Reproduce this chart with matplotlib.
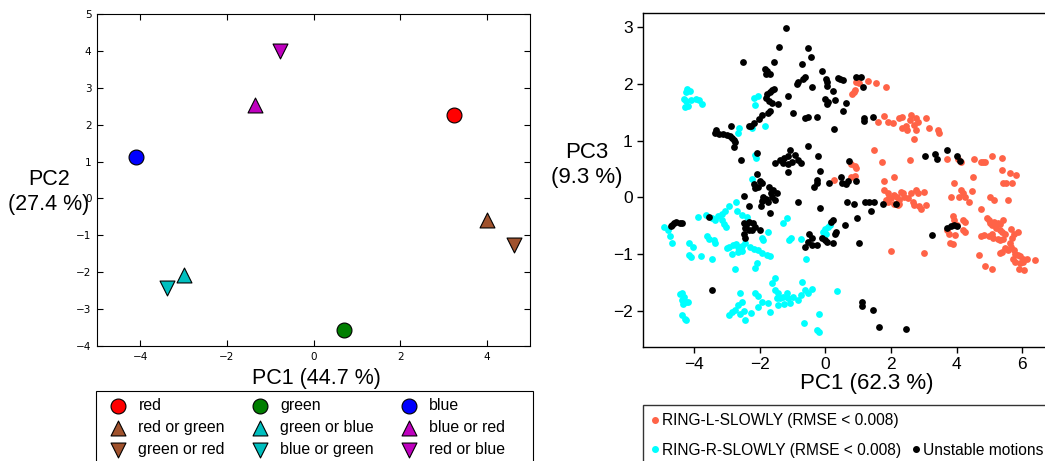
import matplotlib
matplotlib.use("Agg")
import matplotlib.pyplot as plt
from matplotlib.lines import Line2D
from matplotlib.patches import Rectangle
import numpy as np

plt.rcParams['font.family'] = ['Liberation Sans', 'DejaVu Sans']

# ---------------- left panel: colour categories on PC1 / PC2 ----------------
cat_labels = ["red", "red or green", "green or red",
              "green", "green or blue", "blue or green",
              "blue", "blue or red", "red or blue"]
cat_pc1 = [3.25, 4.00, 4.64, 0.70, -2.98, -3.38, -4.09, -1.34, -0.77]
cat_pc2 = [2.27, -0.59, -1.26, -3.57, -2.08, -2.43, 1.13, 2.52, 4.01]
cat_colors = ["#ff0000", "#a0522d", "#a0522d",
              "#007f00", "#00bfbf", "#00bfbf",
              "#0000ff", "#bf00bf", "#bf00bf"]
cat_markers = ["o", "^", "v", "o", "^", "v", "o", "^", "v"]
left_xticks = [-4, -2, 0, 2, 4]
left_yticks = [-4, -3, -2, -1, 0, 1, 2, 3, 4, 5]

# ---------------- right panel: motions on PC1 / PC3 ----------------
ring_l_pc1 = [0.92, 1.04, 1.31, 1.53, 1.85, 0.81, 0.87, 0.91, 1.78, 1.60, 1.90, 2.07,
              2.25, 2.35, 2.47, 2.58, 2.61, 2.76, 2.81, 2.71, 2.35, 2.48, 3.06, 3.16,
              3.44, 3.46, 2.76, 2.71, 1.49, 1.72, 2.59, 0.79, 0.89, 0.94, 0.79, 0.91,
              0.26, 3.72, 4.04, 4.14, 4.53, 4.73, 4.81, 4.88, 5.08, 5.40, 5.38, 5.64,
              5.82, 5.41, 5.52, 5.69, 4.49, 3.92, 1.78, 2.08, 1.80, 1.90, 1.95, 1.85,
              1.90, 2.00, 2.10, 2.17, 2.25, 2.30, 2.40, 2.51, 2.25, 2.20, 2.61, 2.76,
              2.83, 3.01, 2.66, 2.71, 2.86, 2.91, 3.06, 2.38, 2.10, 4.14, 4.20, 4.27,
              4.37, 3.82, 4.07, 4.47, 5.03, 5.13, 5.58, 4.73, 3.90, 3.92, 4.20, 4.27,
              4.02, 4.20, 4.27, 3.70, 3.77, 3.94, 3.81, 3.90, 4.93, 4.98, 5.03, 5.13,
              5.08, 5.25, 5.33, 5.41, 5.21, 5.31, 5.38, 5.48, 5.08, 4.98, 4.83, 4.73,
              5.11, 5.25, 5.33, 5.41, 5.66, 5.74, 5.86, 5.69, 5.62, 5.66, 5.74, 5.79,
              5.86, 5.94, 6.02, 6.14, 5.72, 5.79, 5.94, 6.04, 6.39, 5.58, 5.48, 5.38,
              5.31, 4.68, 4.88, 5.08, 5.89, 6.07, 2.00, 3.01]
ring_l_pc3 = [2.04, 2.01, 2.05, 2.02, 1.95, 1.82, 1.86, 1.89, 1.44, 1.32, 1.32, 1.31,
              1.39, 1.41, 1.26, 1.36, 1.45, 1.39, 1.32, 1.28, 1.23, 1.19, 1.40, 1.23,
              1.19, 1.14, 1.19, 1.02, 0.84, 0.62, 0.65, 0.58, 0.55, 0.51, 0.36, 0.38,
              0.31, 0.68, 0.67, 0.63, 0.67, 0.63, 0.63, 0.63, 0.72, 0.69, 0.48, 0.42,
              0.39, 0.26, 0.25, 0.26, 0.35, 0.25, 0.28, 0.36, 0.12, 0.07, 0.01, -0.04,
              -0.08, -0.02, 0.04, 0.00, -0.05, 0.10, 0.01, -0.02, -0.11, -0.14, 0.07, 0.13,
              0.07, 0.10, -0.08, -0.14, -0.15, -0.21, -0.13, 0.08, -0.11, 0.13, 0.07, 0.01,
              -0.08, 0.01, 0.01, 0.11, 0.00, -0.05, -0.05, -0.21, -0.33, -0.40, -0.40, -0.43,
              -0.49, -0.58, -0.61, -0.58, -0.64, -0.66, -0.81, -0.82, -0.37, -0.40, -0.45, -0.43,
              -0.49, -0.45, -0.47, -0.40, -0.55, -0.58, -0.62, -0.64, -0.64, -0.68, -0.66, -0.68,
              -0.72, -0.74, -0.76, -0.74, -0.56, -0.64, -0.62, -0.72, -0.80, -0.87, -0.93, -1.00,
              -1.02, -1.04, -1.08, -1.09, -1.08, -1.14, -1.16, -1.14, -1.11, -0.93, -0.90, -0.96,
              -0.98, -1.02, -1.22, -1.27, -1.27, -1.28, -0.94, -0.98]

ring_r_pc1 = [-4.21, -4.14, -4.26, -4.31, -4.24, -4.11, -3.94, -3.86, -3.76, -4.28, -4.18,
              -2.17, -2.04, -2.14, -1.83, -2.62, -2.67, -2.24, -2.14, -2.12, -2.24, -2.73,
              -2.95, -3.07, -3.15, -3.27, -3.37, -3.45, -3.64, -3.88, -4.92, -4.79, -4.74,
              -4.69, -4.16, -4.04, -4.16, -4.10, -3.78, -3.60, -3.56, -3.40, -3.35, -3.45,
              -3.15, -3.10, -3.03, -3.00, -2.93, -2.83, -2.73, -2.65, -2.55, -2.44, -2.29,
              -2.19, -2.06, -1.94, -1.79, -1.69, -2.85, -2.65, -2.55, -2.09, -2.14, -2.75,
              -1.74, -1.94, -1.89, -1.28, -1.18, -1.11, -1.05, -0.73, -0.60, -0.02, 0.08,
              0.13, 0.03, -0.07, -2.70, -2.55, -2.39, -1.54, -1.64, -2.14, -2.06, -1.94,
              -2.04, -2.60, -2.55, -2.47, -2.60, -2.65, -2.93, -2.85, -2.77, -2.44, -2.26,
              -1.76, -1.69, -1.54, -1.43, -1.48, -1.38, -1.28, -1.18, -1.13, -1.08, -1.25,
              -1.45, -0.98, -0.83, -0.75, -0.70, -0.63, -0.53, -0.40, 0.36, -0.66, -0.19,
              -0.27, -0.19, -4.44, -4.36, -4.31, -4.38, -4.26, -4.33, -4.18, -4.36, -4.28,
              -4.24]
ring_r_pc3 = [1.91, 1.88, 1.85, 1.73, 1.69, 1.72, 1.74, 1.71, 1.64, 1.60, 1.61,
              1.75, 1.78, 1.63, 1.26, 1.23, 1.13, 1.23, 0.75, 0.70, 0.32, -0.08,
              -0.16, -0.25, -0.29, -0.33, -0.40, -0.37, -0.31, -0.35, -0.52, -0.58, -0.69,
              -0.80, -0.81, -0.87, -1.02, -1.05, -1.04, -0.69, -0.74, -0.75, -0.80, -1.08,
              -0.40, -0.47, -0.53, -0.90, -0.87, -0.84, -0.82, -0.87, -0.86, -0.81, -0.88,
              -0.92, -0.93, -0.98, -1.02, -1.04, -1.00, -0.96, -0.94, -1.16, -1.24, -1.27,
              -0.62, -0.71, -0.76, -0.45, -0.37, -0.76, -0.71, -0.74, -1.08, -0.56, -0.52,
              -0.49, -0.64, -0.61, -0.25, -0.31, -0.35, -1.43, -1.51, -1.69, -1.74, -1.84,
              -1.93, -1.69, -1.84, -2.00, -2.05, -1.90, -2.08, -2.02, -1.99, -2.16, -2.04,
              -1.87, -2.02, -1.64, -1.69, -1.78, -1.78, -1.75, -1.69, -1.78, -1.87, -1.88,
              -1.90, -1.75, -1.81, -1.72, -1.49, -1.64, -1.69, -1.61, -1.65, -2.22, -2.06,
              -2.34, -2.38, -1.71, -1.69, -1.75, -1.81, -1.84, -1.88, -1.84, -2.08, -2.14,
              -2.16]

unstable_pc1 = [-1.20, -1.41, -0.53, -2.51, -0.44, -1.58, -0.70, -1.84, -1.78, -1.82, -1.68,
                -0.09, -0.63, -0.67, -0.83, -0.85, 0.03, 0.06, 0.38, 0.44, 0.55, 0.92,
                1.09, 1.14, -0.40, 0.04, 0.23, -1.56, -1.64, -1.69, -1.79, -1.13, 0.00,
                0.08, 0.28, 0.04, 0.62, 0.54, -1.82, -1.71, -1.45, -1.64, -0.98, -0.63,
                -0.53, -0.26, 1.17, 1.19, 1.44, 0.26, -1.68, -1.76, -1.94, -2.02, -2.18,
                -2.26, -2.34, -2.88, -3.33, -3.37, -3.25, -3.12, -3.00, -2.90, -2.85, -2.80,
                -2.77, -2.79, -0.53, -2.08, -1.08, -0.93, -0.83, -1.15, -1.25, -1.38, -1.54,
                -1.28, -1.13, -1.01, -0.73, -1.15, -2.58, -0.21, 0.71, 3.04, 3.33, 3.41,
                3.72, 4.02, 4.10, -0.16, -2.09, -1.99, -2.19, -2.04, -2.14, -1.94, -0.27,
                -0.24, 0.10, 0.48, 0.51, 0.64, 0.69, 0.94, -0.34, -1.72, -1.59, -1.66,
                -1.48, -1.54, -1.62, -1.89, -1.82, -1.94, -1.74, -2.49, -2.32, -1.97, -1.68,
                -0.82, -0.17, 0.65, 0.86, 1.21, 1.34, 1.47, 1.39, 1.75, 2.14, -3.56,
                0.97, 0.23, 0.18, 0.59, -4.62, -4.67, -4.55, -4.72, -4.44, -4.36, -2.49,
                -2.42, -2.32, -2.22, -2.44, -2.34, -2.24, -2.14, -2.49, -2.46, -1.99, -0.49,
                -0.42, -0.53, -0.63, -0.42, -0.27, -0.09, 0.00, 0.06, 0.23, 0.33, 0.28,
                1.04, 3.24, 3.72, 3.82, 3.92, 4.00, -3.47, 1.12, 1.11, 1.45, 1.65, 2.46]
unstable_pc3 = [2.98, 2.65, 2.64, 2.39, 2.47, 2.38, 2.35, 2.26, 2.22, 2.18, 2.18,
                2.22, 2.13, 2.09, 2.04, 1.99, 2.08, 2.04, 2.10, 2.08, 2.07, 2.13,
                2.13, 1.94, 1.95, 1.96, 1.88, 1.91, 1.89, 1.85, 1.82, 1.78, 1.73,
                1.68, 1.72, 1.65, 1.66, 1.53, 1.76, 1.70, 1.64, 1.66, 1.48, 1.39,
                1.41, 1.42, 1.39, 1.35, 1.41, 1.20, 1.52, 1.49, 1.45, 1.38, 1.31,
                1.26, 1.26, 1.26, 1.19, 1.13, 1.11, 1.12, 1.10, 1.08, 1.05, 1.01,
                0.98, 0.88, 0.91, 0.79, 0.84, 0.75, 0.65, 0.73, 0.69, 0.66, 0.60,
                0.61, 0.59, 0.63, 0.60, 0.45, 0.65, 0.72, 0.64, 0.73, 0.76, 0.67,
                0.84, 0.72, 0.64, 0.47, 0.41, 0.28, 0.24, 0.19, 0.16, 0.25, 0.31,
                0.26, 0.26, 0.36, 0.25, 0.24, 0.28, 0.28, 0.19, 0.19, 0.13, 0.08,
                0.07, -0.05, 0.01, 0.01, -0.03, -0.06, -0.08, 0.02, -0.15, -0.16, -0.27,
                -0.08, -0.19, -0.09, -0.12, -0.09, -0.09, -0.08, -0.24, -0.11, -0.12, -0.34,
                -0.36, -0.40, -0.44, -0.49, -0.46, -0.49, -0.43, -0.51, -0.46, -0.45, -0.46,
                -0.48, -0.43, -0.45, -0.55, -0.58, -0.58, -0.52, -0.64, -0.71, -0.58, -0.64,
                -0.71, -0.78, -0.87, -0.84, -0.84, -0.71, -0.75, -0.79, -0.81, -0.61, -0.65,
                -0.80, -0.67, -0.54, -0.51, -0.49, -0.51, -1.64, -1.84, -1.91, -1.99, -2.29, -2.33]

right_xticks = [-4, -2, 0, 2, 4, 6]
right_yticks = [-2, -1, 0, 1, 2, 3]

W, H = 1045, 461
fig = plt.figure(figsize=(W / 100, H / 100), dpi=100)


def box(x0, y0, x1, y1):
    """Rectangle given in pixel coordinates measured from the top-left."""
    return [x0 / W, 1 - y1 / H, (x1 - x0) / W, (y1 - y0) / H]


# ---------------- left panel ----------------
axl = fig.add_axes(box(97, 14, 530, 346))
handles = []
for x, y, c, m, lab in zip(cat_pc1, cat_pc2, cat_colors, cat_markers, cat_labels):
    h = axl.scatter([x], [y], s=115, c=c, marker=m, edgecolors="black",
                    linewidths=0.8, label=lab, zorder=3)
    handles.append(h)
axl.set_xlim(-5, 5)
axl.set_ylim(-4, 5)
axl.set_xticks(left_xticks)
axl.set_yticks(left_yticks)
axl.tick_params(direction="in", top=True, right=True, length=4, width=0.8,
                labelsize=7.5, pad=4)
for lbl in axl.get_xticklabels() + axl.get_yticklabels():
    lbl.set_family("DejaVu Sans")
for sp in axl.spines.values():
    sp.set_linewidth(0.8)
fig.text(316 / W, 1 - 378 / H, "PC1 (44.7 %)", ha="center", va="center", fontsize=15.5)
fig.text(49 / W, 1 - 192 / H, "PC2\n(27.4 %)", ha="center", va="center",
         fontsize=15.5, linespacing=1.2)

# legend box spans the width of the panel above; entries sit in three columns
x0, y0, x1, y1 = box(96, 391, 533, 475)
fig.add_artist(Rectangle((x0, y0), x1, y1, transform=fig.transFigure,
                         fill=False, edgecolor="black", linewidth=0.8))
fig.legend(handles=handles, loc="upper left",
           bbox_to_anchor=(96 / W, 1 - 391 / H),
           bbox_transform=fig.transFigure, ncol=3, fontsize=11.4, scatterpoints=1,
           frameon=False, borderpad=0.43,
           labelspacing=0.46, handlelength=1.9, handletextpad=0.35,
           columnspacing=1.25, borderaxespad=0)

# ---------------- right panel ----------------
axr = fig.add_axes(box(643, 13.3, 643 + 12.46 * 32.8, 346.7))
axr.scatter(ring_r_pc1, ring_r_pc3, s=24, c="#00ffff", linewidths=0, zorder=2)
axr.scatter(ring_l_pc1, ring_l_pc3, s=24, c="#ff6347", linewidths=0, zorder=2)
axr.scatter(unstable_pc1, unstable_pc3, s=24, c="black", linewidths=0, zorder=3)
axr.set_xlim(-5.56, 6.9)
axr.set_ylim(-2.635, 3.245)
axr.set_xticks(right_xticks)
axr.set_yticks(right_yticks)
axr.tick_params(direction="out", length=4.5, width=1, labelsize=12.5, pad=3)
for sp in axr.spines.values():
    sp.set_linewidth(1)
fig.text(867 / W, 1 - 383 / H, "PC1 (62.3 %)", ha="center", va="center", fontsize=16)
fig.text(587 / W, 1 - 165 / H, "PC3\n(9.3 %)", ha="center", va="center",
         fontsize=16, linespacing=1.2)

leg_handles = [
    Line2D([], [], marker="o", ls="none", color="#ff6347", markersize=4),
    Line2D([], [], marker="o", ls="none", color="#00ffff", markersize=4),
    Line2D([], [], ls="none"),
    Line2D([], [], marker="o", ls="none", color="black", markersize=4),
]
leg_labels = ["RING-L-SLOWLY (RMSE < 0.008)", "RING-R-SLOWLY (RMSE < 0.008)", "",
              "Unstable motions"]
fig.legend(leg_handles, leg_labels, loc="upper left", mode="expand",
           bbox_to_anchor=(643 / W, 1 - 405 / H - 0.3, 12.46 * 32.8 / W, 0.3),
           bbox_transform=fig.transFigure,
           ncol=2, fontsize=11.2, frameon=True, fancybox=False, edgecolor="black",
           borderpad=0.53, labelspacing=0.93, handlelength=0.47, handletextpad=0.21,
           borderaxespad=0)

fig.savefig("out.png", dpi=100)
